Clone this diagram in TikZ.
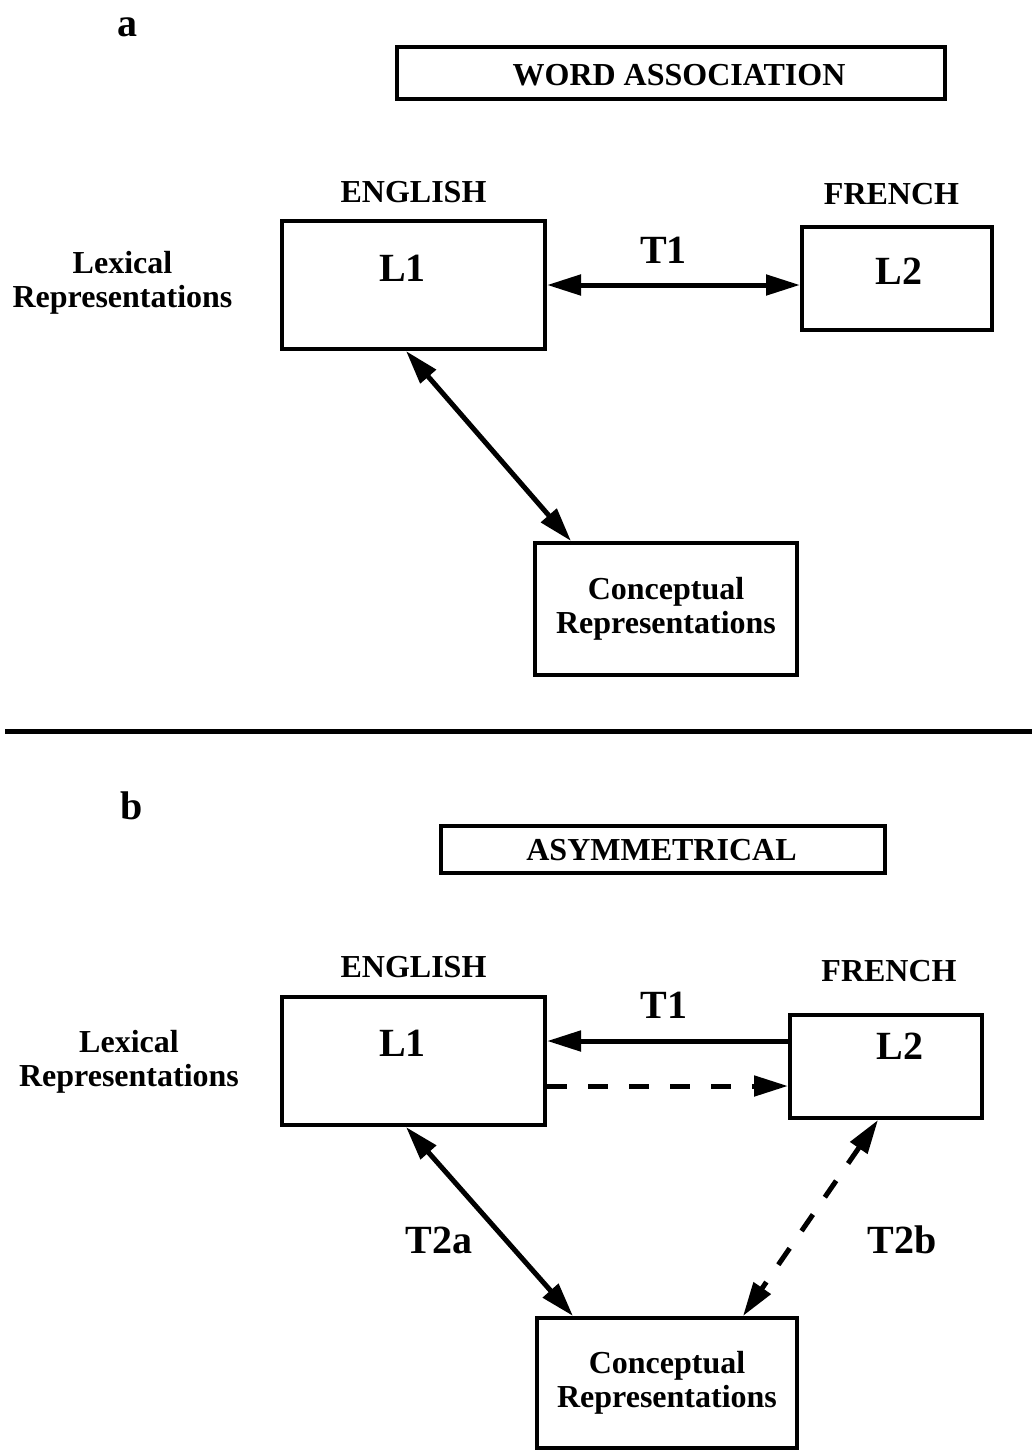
\documentclass[tikz,border=0pt]{standalone}
\usepackage{fontspec}
\setmainfont{Liberation Serif}
\usetikzlibrary{arrows.meta}
\usetikzlibrary{positioning}
% text moved by (#1,#2) from the middle of its box
\newcommand{\shiftlabel}[3]{%
  \raisebox{#2}[0pt][0pt]{\makebox[0pt]{\hspace*{#1}\hspace*{#1}#3}}}
\tikzset {
  txt/.style = {
    font = \fontsize{32}{34}\selectfont\bfseries,
    inner sep = 0
  },
  % two line text
  txtblock/.style = {
    txt,
    align = center
  },
  big/.style = {
    font = \fontsize{40}{44}\selectfont\bfseries,
    inner sep = 0
  },
  box/.style = {
    draw = black,
    line width = 4pt,
    rectangle,
    inner sep = 0,
    font = \fontsize{32}{34}\selectfont\bfseries,
    align = center
  },
  % box for a language
  langbox/.style = {
    box,
    font = \fontsize{40}{44}\selectfont\bfseries
  }
}
\tikzset {
  arr/.style = {
    draw = black,
    line width = 5pt
  },
  darr/.style = {
    arr,
    dash pattern = on 20pt off 21pt
  },
  sep/.style = {
    draw = black,
    line width = 5pt
  }
}
\begin{document}
\begin{tikzpicture}[x = 1pt, y = -1pt,
    >={Triangle[length = 34pt, width = 20pt]}]
  \useasboundingbox (0,0) rectangle (1032,1450);

  % a
  \node[big] (a) at (127,27.5) {a};
  \node[box, minimum width = 548pt, minimum height = 52pt] (assoc) at (671,73)
    {\shiftlabel{8pt}{-12.5pt}{WORD ASSOCIATION}};
  \node[txtblock] (lexa) at (122.5,283) {Lexical\\Representations};
  \node[langbox, minimum width = 263pt, minimum height = 128pt] (l1a) at (413.5,285)
    {\shiftlabel{-11pt}{3.4pt}{L1}};
  \node[langbox, minimum width = 190pt, minimum height = 103pt] (l2a) at (897,278.5)
    {\shiftlabel{2pt}{-5.6pt}{L2}};
  \node[txt] (englisha) [above = 16pt of l1a] {ENGLISH};
  \node[txt] (frencha) [above = 20pt of l2a, xshift = -5.5pt] {FRENCH};
  \node[box, minimum width = 262pt, minimum height = 132pt] (cra) at (666,609)
    {Conceptual\\Representations};
  \node[big] (t1a) at (663.5,250) {T1};

  \draw[arr, <->] (l1a.east) -- (l1a.east -| l2a.west);
  \draw[arr, <->] ([xshift = 126pt]l1a.south west)
    -- ([xshift = 38pt]cra.north west);

  \draw[sep] (5,731) -- (1032,731);

  % b
  \node[big] (b) at (131.5,806) {b};
  \node[box, minimum width = 444pt, minimum height = 47pt] (asym) at (663,849.5)
    {\shiftlabel{-1.5pt}{-11pt}{ASYMMETRICAL}};
  \node[txtblock] (lexb) at (129,1062) {Lexical\\Representations};
  \node[langbox, minimum width = 263pt, minimum height = 128pt] (l1b) at (413.5,1061)
    {\shiftlabel{-11pt}{4.4pt}{L1}};
  \node[langbox, minimum width = 192pt, minimum height = 103pt] (l2b) at (886,1066.5)
    {\shiftlabel{14pt}{7.4pt}{L2}};
  \node[txt] (englishb) [above = 17pt of l1b] {ENGLISH};
  \node[txt] (frenchb) [above = 31pt of l2b, xshift = 3pt] {FRENCH};
  \node[box, minimum width = 260pt, minimum height = 130pt] (crb) at (667,1383)
    {Conceptual\\Representations};
  \node[big] (t1b) at (664,1005) {T1};
  \node[big] (t2a) at (439,1240) {T2a};
  \node[big] (t2b) at (902,1240) {T2b};

  \draw[arr, ->] ([yshift = 25.5pt]l2b.west)
    -- ([yshift = 25.5pt]l2b.west -| l1b.east);
  \draw[darr, ->] ([yshift = -19.5pt]l2b.west -| l1b.east)
    -- ([yshift = -19.5pt]l2b.west);
  \draw[arr, <->] ([xshift = 126pt]l1b.south west)
    -- ([xshift = 38pt]crb.north west);
  \draw[darr, <->] ([xshift = 90pt]l2b.south west)
    -- ([xshift = 208pt]crb.north west);
\end{tikzpicture}
\end{document}
